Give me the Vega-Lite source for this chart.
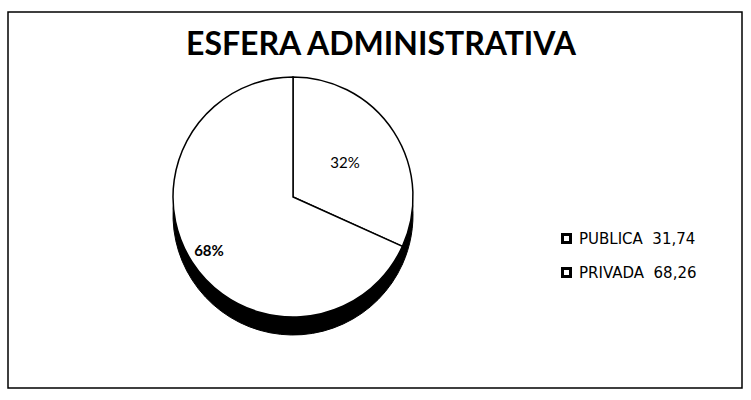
{
  "$schema": "https://vega.github.io/schema/vega-lite/v6.json",
  "width": 734,
  "height": 376,
  "autosize": "none",
  "padding": {"left": 8, "top": 12, "right": 9, "bottom": 12},
  "background": "white",
  "view": {"stroke": "black", "strokeWidth": 1.5},
  "config": {"view": {"stroke": "black", "strokeWidth": 1.5}, "font": "Lato"},
  "title": {"text": "ESFERA ADMINISTRATIVA", "fontSize": 32, "font": "Lato", "fontWeight": "bold", "color": "black", "anchor": "middle", "offset": -50, "dx": 6},
  "data": {"values": [
    {"esfera": "PUBLICA\u00a0\u00a031,74", "valor": 31.74, "pct": "32%"},
    {"esfera": "PRIVADA\u00a0\u00a068,26", "valor": 68.26, "pct": "68%"}
  ]},
  "encoding": {
    "theta": {"field": "valor", "type": "quantitative", "stack": true},
    "order": {"field": "valor", "type": "quantitative", "sort": "ascending"}
  },
  "layer": [
    {"mark": {"type": "arc", "outerRadius": 120, "fill": "black", "stroke": "black", "x": 285, "y": 203}, "encoding": {}},
    {"mark": {"type": "arc", "outerRadius": 120, "stroke": "black", "strokeWidth": 1.5, "x": 285, "y": 185},
     "encoding": {"color": {"field": "esfera", "type": "nominal", "sort": null,
       "scale": {"range": ["#ffffff", "#ffffff"]},
       "legend": {"orient": "none", "legendX": 551, "legendY": 219, "title": null, "symbolType": "square", "symbolSize": 64, "symbolStrokeColor": "black", "symbolStrokeWidth": 3, "labelFontSize": 15, "labelFont": "DejaVu Sans", "labelColor": "black", "rowPadding": 13, "labelOffset": 5}}}},
    {"mark": {"type": "text", "fontSize": 15, "font": "Lato", "color": "black", "x": 285, "y": 185},
     "encoding": {"text": {"field": "pct"}, "radius": {"value": 62},
       "opacity": {"condition": {"test": "datum.valor < 50", "value": 1}, "value": 0}}},
    {"mark": {"type": "text", "fontSize": 15, "font": "Lato", "fontWeight": "bold", "color": "black", "x": 285, "y": 185},
     "encoding": {"text": {"field": "pct"}, "radius": {"value": 100},
       "opacity": {"condition": {"test": "datum.valor > 50", "value": 1}, "value": 0}}}
  ]
}
